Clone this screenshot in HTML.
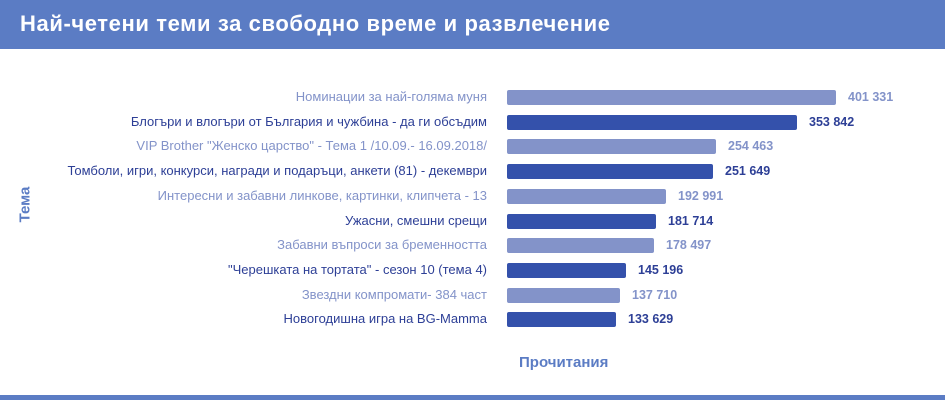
<!DOCTYPE html>
<html><head><meta charset="utf-8"><style>
body{margin:0;width:945px;height:400px;background:#fff;position:relative;overflow:hidden;font-family:"Liberation Sans","DejaVu Sans",sans-serif}
.hdr{position:absolute;left:0;top:0;width:945px;height:49px;background:#5b7cc4}
.hdr span{position:absolute;left:20px;top:11px;color:#fff;font-weight:bold;font-size:22px;letter-spacing:0.6px}
.lbl{position:absolute;right:458px;font-size:13px;white-space:nowrap;line-height:16px}
.bar{position:absolute;left:507px;height:15px;border-radius:2px}
.val{position:absolute;font-size:12.5px;font-weight:bold;line-height:16px}
.l{color:#8393c9}.d{color:#2d3f96}
.lb{background:#8393c9}.db{background:#3451ab}
</style></head><body>
<div class="hdr"><span>Най-четени теми за свободно време и развлечение</span></div>
<div style="position:absolute;left:0;top:395px;width:945px;height:5px;background:#5b7cc4"></div>
<div style="position:absolute;left:7px;top:196px;transform:rotate(-90deg);color:#5b7cc4;font-weight:bold;font-size:15px">Тема</div>
<div style="position:absolute;left:519px;top:354px;color:#5b7cc4;font-weight:bold;font-size:15px">Прочитания</div>
<div id="c"></div>
<script>
var d=[["Номинации за най-голяма муня",836,"401 331"],["Блогъри и влогъри от България и чужбина - да ги обсъдим",797,"353 842"],["VIP Brother \"Женско царство\" - Тема 1 /10.09.- 16.09.2018/",716,"254 463"],["Томболи, игри, конкурси, награди и подаръци, анкети (81) - декември",713,"251 649"],["Интересни и забавни линкове, картинки, клипчета - 13",666,"192 991"],["Ужасни, смешни срещи",656,"181 714"],["Забавни въпроси за бременността",654,"178 497"],["\"Черешката на тортата\" - сезон 10 (тема 4)",626,"145 196"],["Звездни компромати- 384 част",620,"137 710"],["Новогодишна игра на BG-Mamma",616,"133 629"]];
var h="";d.forEach(function(r,i){var c=i%2?"d":"l";var y=90+i*24.7;
h+='<div class="lbl '+c+'" style="top:'+(y-1)+'px">'+r[0].replace(/</g,"&lt;")+'</div>';
h+='<div class="bar '+c+'b" style="top:'+y+'px;width:'+(r[1]-507)+'px"></div>';
h+='<div class="val '+c+'" style="top:'+(y-1)+'px;left:'+(r[1]+12)+'px">'+r[2]+'</div>';});
document.getElementById("c").innerHTML=h;
</script>
</body></html>
